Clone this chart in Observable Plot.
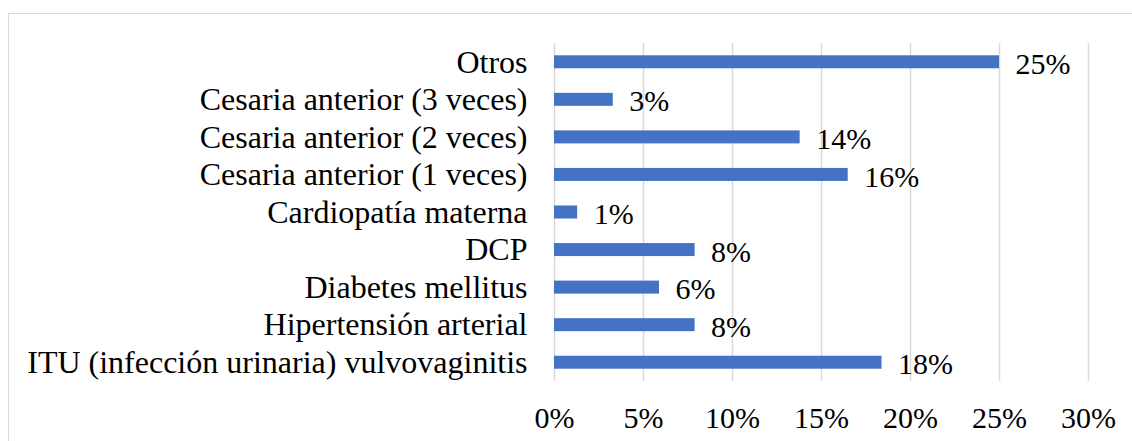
<!DOCTYPE html>
<html>
<head>
<meta charset="utf-8">
<script src="https://cdn.jsdelivr.net/npm/d3@7"></script>
<script src="https://cdn.jsdelivr.net/npm/@observablehq/plot@0.6"></script>
<style>
  html, body { margin: 0; padding: 0; background: #fff; overflow: hidden; }
  #wrap { position: relative; width: 1132px; height: 441px; }
  #border { position: absolute; left: 8px; top: 13px; width: 1200px; height: 500px; border: 1.5px solid #d9d9d9; box-sizing: border-box; }
  #chart { position: absolute; left: 0; top: 0; }
  #chart svg, #chart svg text { font-family: "Liberation Serif", "Times New Roman", serif !important; }
</style>
</head>
<body>
<div id="wrap"><div id="border"></div><div id="chart"></div></div>
<script>
const categories = [
  "Otros",
  "Cesaria anterior (3 veces)",
  "Cesaria anterior (2 veces)",
  "Cesaria anterior (1 veces)",
  "Cardiopatía materna",
  "DCP",
  "Diabetes mellitus",
  "Hipertensión arterial",
  "ITU (infección urinaria) vulvovaginitis"
];
const values = [0.25, 0.033, 0.138, 0.165, 0.013, 0.079, 0.059, 0.079, 0.184];
const valueLabels = ["25%", "3%", "14%", "16%", "1%", "8%", "6%", "8%", "18%"];
const xTicks = [0, 0.05, 0.10, 0.15, 0.20, 0.25, 0.30];

const data = categories.map((c, i) => ({cat: c, v: values[i], label: valueLabels[i]}));

const chart = Plot.plot({
  width: 1132,
  height: 441,
  marginTop: 43,
  marginBottom: 60,
  marginLeft: 554,
  marginRight: 44,
  style: {fontSize: "30px", color: "#000", background: "transparent"},
  x: {domain: [0, 0.30], ticks: xTicks, tickFormat: d => Math.round(d * 100) + "%", label: null},
  y: {domain: categories, paddingInner: 0.654, paddingOuter: 0.327, round: false, label: null},
  marks: [
    Plot.ruleX(xTicks, {stroke: "#d9d9d9", strokeWidth: 1.5}),
    Plot.barX(data, {x: "v", y: "cat", fill: "#4472C4"}),
    Plot.text(data, {x: "v", y: "cat", text: "label", textAnchor: "start", dx: 16, dy: 2, fill: "#000", fontSize: 30}),
    Plot.axisX({ticks: xTicks, tickFormat: d => Math.round(d * 100) + "%", tickSize: 0, tickPadding: 25, fontSize: 30, label: null}),
    Plot.axisY({tickSize: 0, tickPadding: 27, fontSize: 32, label: null})
  ]
});
document.getElementById("chart").appendChild(chart);
</script>
</body>
</html>
